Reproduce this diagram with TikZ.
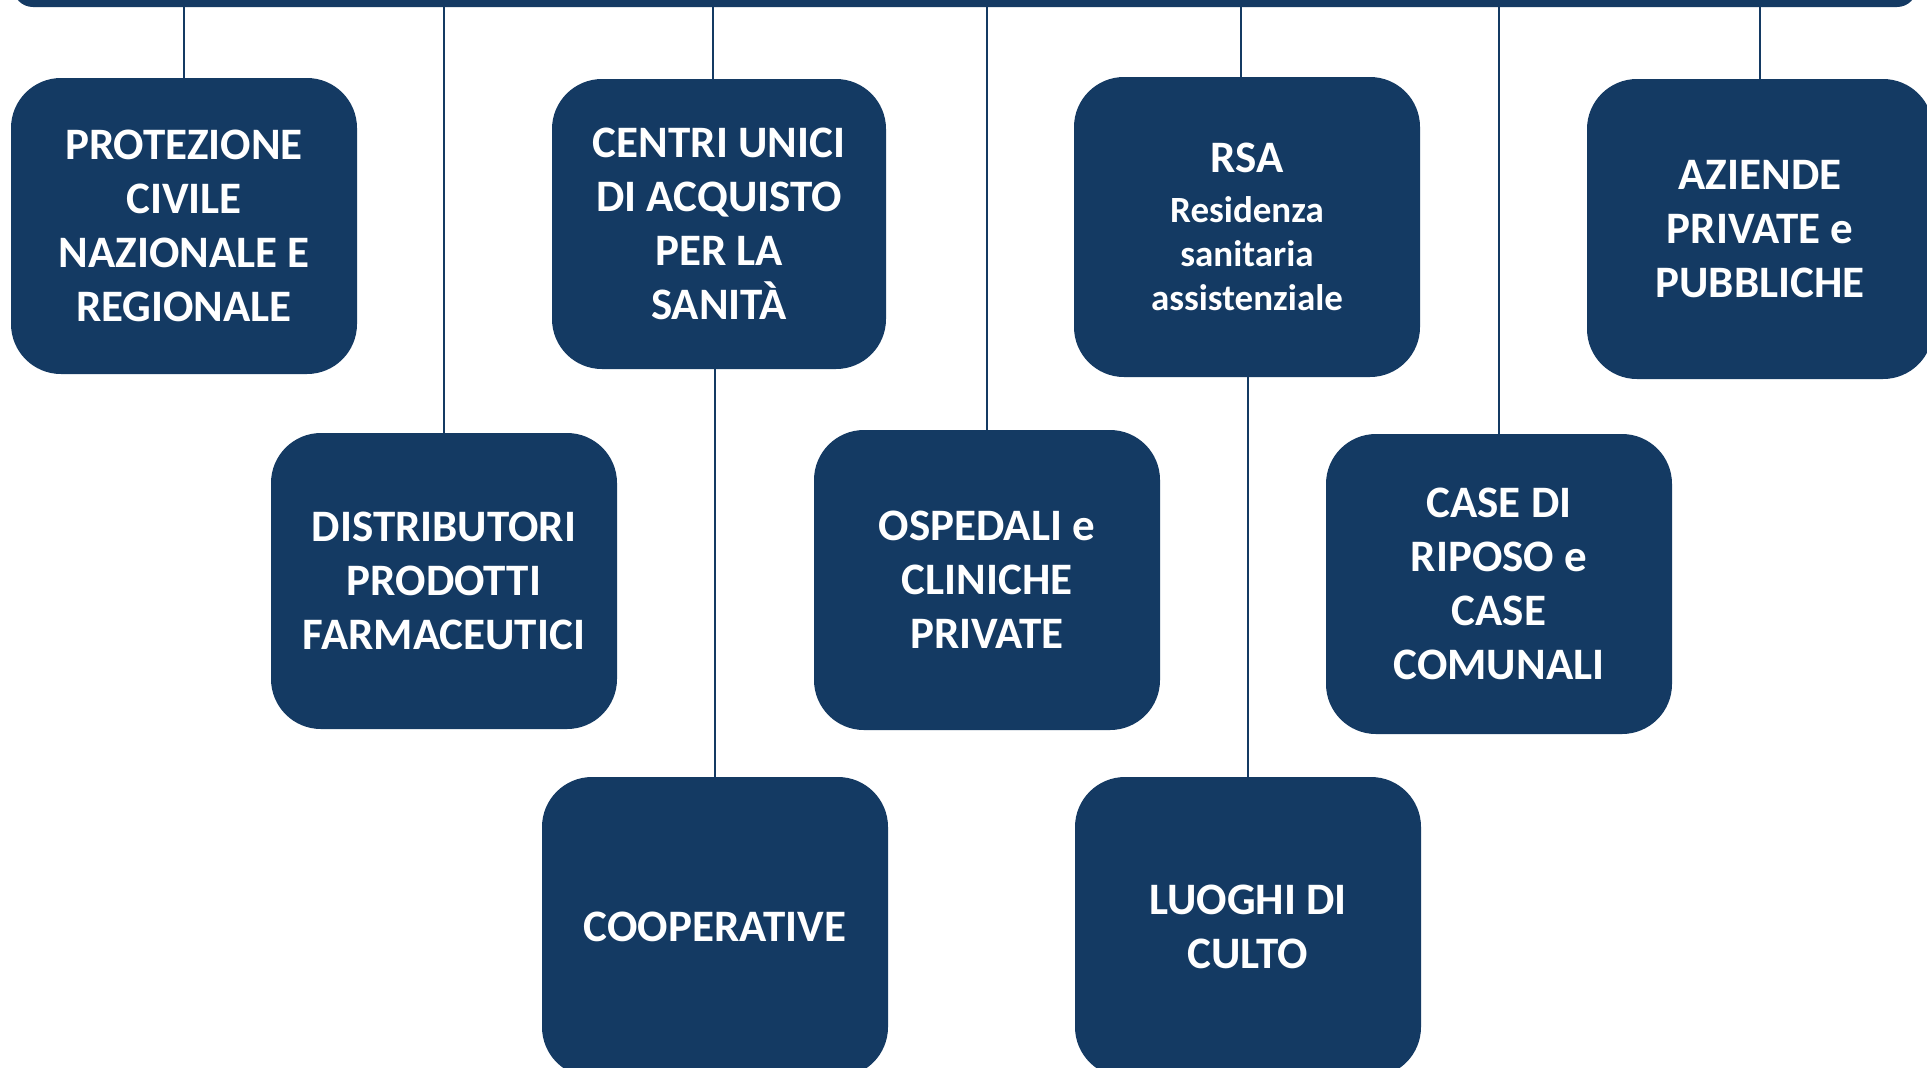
\documentclass[tikz,border=0pt]{standalone}
\usepackage{fontspec}
\setmainfont{Carlito}
\definecolor{navy}{RGB}{20,58,99}
\newcommand{\subfont}{\fontsize{18.5}{22}\selectfont}
\tikzset{
    orgbox/.style={
    rectangle,rounded corners=25pt,fill=navy,text=white,align=center,
    minimum width=173pt,minimum height=148pt,inner sep=0pt,
    font=\bfseries\fontsize{22.5}{27}\selectfont
    },
    tallbox/.style={
    orgbox,minimum height=150pt
    },
    topbar/.style={
    rectangle,rounded corners=10pt,fill=navy,
    minimum width=952pt,minimum height=30pt,inner sep=0pt
    },
    wire/.style={
    draw=navy,line width=1pt
    },
}
\begin{document}
\begin{tikzpicture}[x=0.5pt,y=-0.5pt]
   \useasboundingbox[fill=white] (0,0) rectangle (1927,1067);
   \node[topbar] (bar) at (965,-23) {};

   %upper row
   \node[orgbox] (prot) at (184,226) {PROTEZIONE\\CIVILE\\NAZIONALE E\\REGIONALE};
   \node[orgbox,minimum width=167pt,minimum height=145pt] (centri) at (719,224) {CENTRI UNICI\\DI ACQUISTO\\PER LA\\SANITÀ};
   \node[tallbox] (rsa) at (1247,227) {RSA\\[-2pt]{\subfont Residenza}\\[-5pt]{\subfont sanitaria}\\[-5pt]{\subfont assistenziale}};
   \node[tallbox] (azi) at (1760,229) {AZIENDE\\PRIVATE e\\PUBBLICHE};

   %middle row
   \node[orgbox] (distr) at (444,581) {DISTRIBUTORI\\PRODOTTI\\FARMACEUTICI};
   \node[tallbox] (osp) at (987,580) {OSPEDALI e\\CLINICHE\\PRIVATE};
   \node[tallbox] (case) at (1499,584) {CASE DI\\RIPOSO e\\CASE\\COMUNALI};

   %lower row
   \node[tallbox] (coop) at (715,927) {COOPERATIVE};
   \node[tallbox] (luoghi) at (1248,927) {LUOGHI DI\\CULTO};

  \path[wire]
    %from the bar
    (prot.north |- bar.south) edge (prot)
    (distr.north |- bar.south) edge (distr)
    ([xshift=-3pt]centri.north |- bar.south) edge ([xshift=-3pt]centri.north)
    (osp.north |- bar.south) edge (osp)
    ([xshift=-3pt]rsa.north |- bar.south) edge ([xshift=-3pt]rsa.north)
    (case.north |- bar.south) edge (case)
    (azi.north |- bar.south) edge (azi)

    %down to the lower row
    (coop.north |- centri.south) edge (coop)
    (luoghi.north |- rsa.south) edge (luoghi);
\end{tikzpicture}
\end{document}
